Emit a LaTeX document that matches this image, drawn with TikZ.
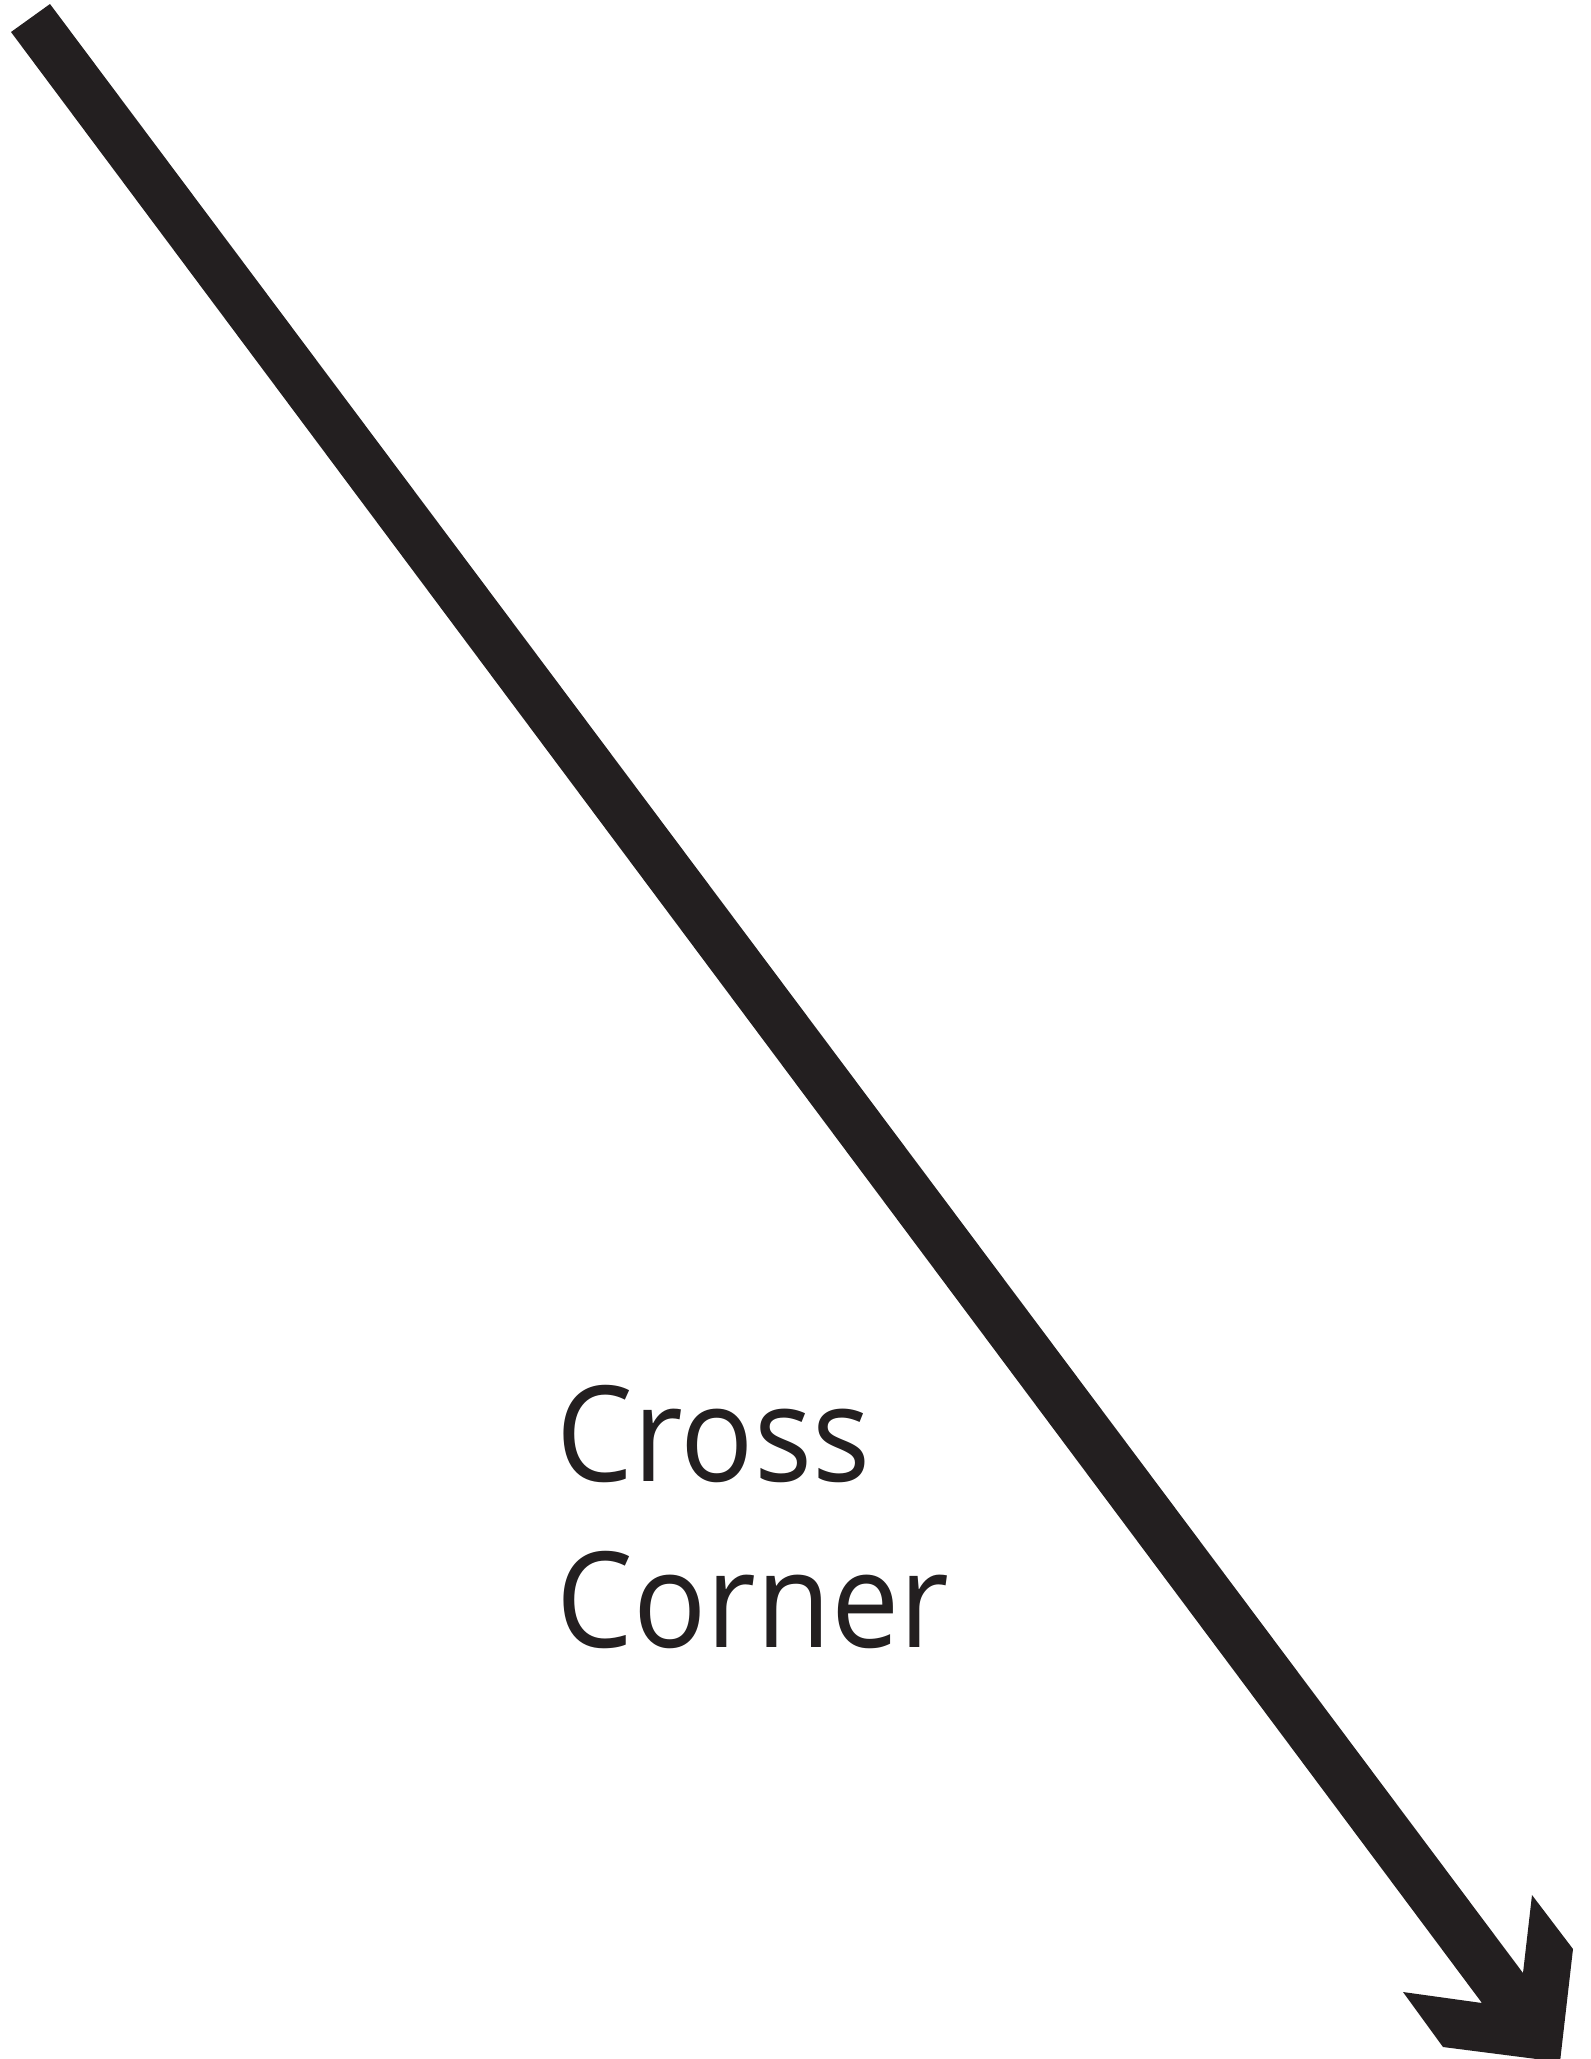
\documentclass[tikz,border=0pt]{standalone}
\usepackage{fontspec}
\setmainfont[FakeStretch=0.915]{Open Sans}
\usepackage{xcolor}
\definecolor{inkdark}{RGB}{35,31,32}
\usetikzlibrary{positioning}
\tikzset{
  bigarrow/.style={fill=inkdark,draw=none},
  cornerlabel/.style={inner sep=0pt,align=left,text=inkdark,
                      font=\fontsize{37.8}{47.2}\selectfont},
}
\begin{document}
\begin{tikzpicture}[x=0.01cm,y=-0.01cm]

    \useasboundingbox (0,0) rectangle (1591,2059);

    % Arrow
    \fill[bigarrow] (50,4) -- (1523,1973) -- (1532,1895) -- (1573,1949)
        -- (1560,2062) -- (1443,2047) -- (1403,1992) -- (1482,2003)
        -- (11,32) -- cycle;

    % Label
    \node[cornerlabel,anchor=north west] (label) at (556,1385)
        {Cross\\Corner};

\end{tikzpicture}
\end{document}
